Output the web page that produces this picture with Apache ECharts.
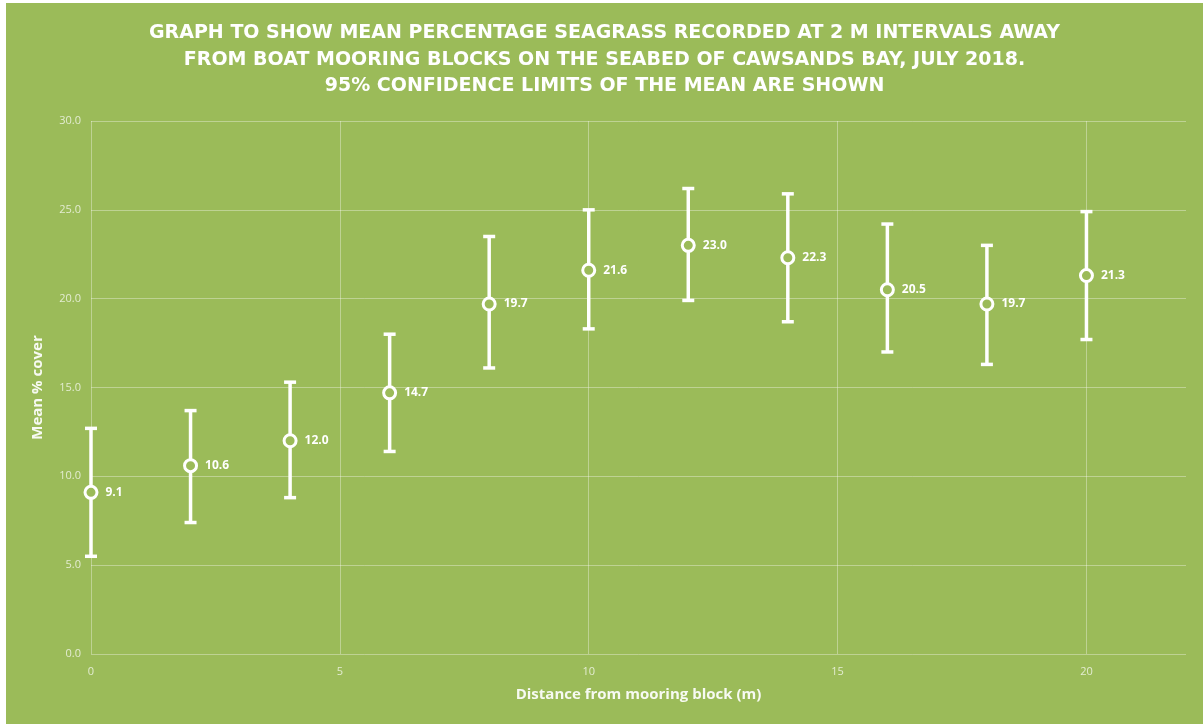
<!DOCTYPE html>
<html>
<head>
<meta charset="utf-8">
<script src="https://cdn.jsdelivr.net/npm/echarts@6/dist/echarts.min.js"></script>
<style>
  html, body { margin: 0; padding: 0; background: #fff; }
  #chart { position: absolute; left: 6px; top: 3px; width: 1197px; height: 721px; }
</style>
</head>
<body>
<div id="chart"></div>
<script>
const distances = [0, 2, 4, 6, 8, 10, 12, 14, 16, 18, 20];
const meanCover = [9.1, 10.6, 12.0, 14.7, 19.7, 21.6, 23.0, 22.3, 20.5, 19.7, 21.3];
const upperLimit = [12.7, 13.7, 15.3, 18.0, 23.5, 25.0, 26.2, 25.9, 24.2, 23.0, 24.9];
const lowerLimit = [5.5, 7.4, 8.8, 11.4, 16.1, 18.3, 19.9, 18.7, 17.0, 16.3, 17.7];

const green = '#9bbb59';
const gridColor = 'rgba(255,255,255,0.35)';
const tickColor = 'rgba(255,255,255,0.72)';

const chart = echarts.init(document.getElementById('chart'));

const option = {
  backgroundColor: green,
  animation: false,
  title: {
    text: 'GRAPH TO SHOW MEAN PERCENTAGE SEAGRASS RECORDED AT 2 M INTERVALS AWAY\n' +
          'FROM BOAT MOORING BLOCKS ON THE SEABED OF CAWSANDS BAY, JULY 2018.\n' +
          '95% CONFIDENCE LIMITS OF THE MEAN ARE SHOWN',
    left: 'center',
    top: 12,
    textStyle: {
      color: '#fff',
      fontFamily: 'DejaVu Sans',
      fontWeight: 'bold',
      fontSize: 19,
      lineHeight: 26.5
    }
  },
  grid: { left: 85, right: 17, top: 118, bottom: 70 },
  xAxis: {
    type: 'value',
    min: 0,
    max: 22,
    interval: 5,
    name: 'Distance from mooring block (m)',
    nameLocation: 'middle',
    nameGap: 33,
    nameTextStyle: { color: 'rgba(255,255,255,0.92)', fontFamily: 'Open Sans', fontWeight: 'bold', fontSize: 15 },
    axisLine: { show: false },
    axisTick: { show: false },
    axisLabel: {
      color: tickColor, fontFamily: 'Open Sans', fontSize: 11, margin: 12,
      showMaxLabel: false
    },
    splitLine: { show: true, showMaxLine: false, lineStyle: { color: gridColor, width: 1 } }
  },
  yAxis: {
    type: 'value',
    min: 0,
    max: 30,
    interval: 5,
    name: 'Mean % cover',
    nameLocation: 'middle',
    nameGap: 46,
    nameTextStyle: { color: 'rgba(255,255,255,0.92)', fontFamily: 'Open Sans', fontWeight: 'bold', fontSize: 15 },
    axisLine: { show: false },
    axisTick: { show: false },
    axisLabel: {
      color: tickColor, fontFamily: 'Open Sans', fontSize: 11, margin: 10,
      formatter: v => v.toFixed(1)
    },
    splitLine: { lineStyle: { color: gridColor, width: 1 } }
  },
  series: [
    {
      // 95% confidence limits
      type: 'custom',
      data: distances.map((d, i) => [d, lowerLimit[i], upperLimit[i]]),
      encode: { x: 0, y: [1, 2] },
      renderItem: (params, api) => {
        const lo = api.coord([api.value(0), api.value(1)]);
        const hi = api.coord([api.value(0), api.value(2)]);
        const half = 6;
        const style = { stroke: '#fff', lineWidth: 3.5 };
        return {
          type: 'group',
          children: [
            { type: 'line', shape: { x1: lo[0], y1: lo[1], x2: hi[0], y2: hi[1] }, style },
            { type: 'line', shape: { x1: hi[0] - half, y1: hi[1], x2: hi[0] + half, y2: hi[1] }, style },
            { type: 'line', shape: { x1: lo[0] - half, y1: lo[1], x2: lo[0] + half, y2: lo[1] }, style }
          ]
        };
      },
      z: 2
    },
    {
      type: 'scatter',
      data: distances.map((d, i) => [d, meanCover[i]]),
      symbol: 'circle',
      symbolSize: 12,
      itemStyle: { color: green, borderColor: '#fff', borderWidth: 3, opacity: 1 },
      label: {
        show: true,
        position: 'right',
        distance: 7,
        color: '#fff',
        fontFamily: 'Open Sans',
        fontWeight: 'bold',
        fontSize: 12,
        formatter: p => p.value[1].toFixed(1)
      },
      z: 3
    }
  ]
};

chart.setOption(option);
</script>
</body>
</html>
